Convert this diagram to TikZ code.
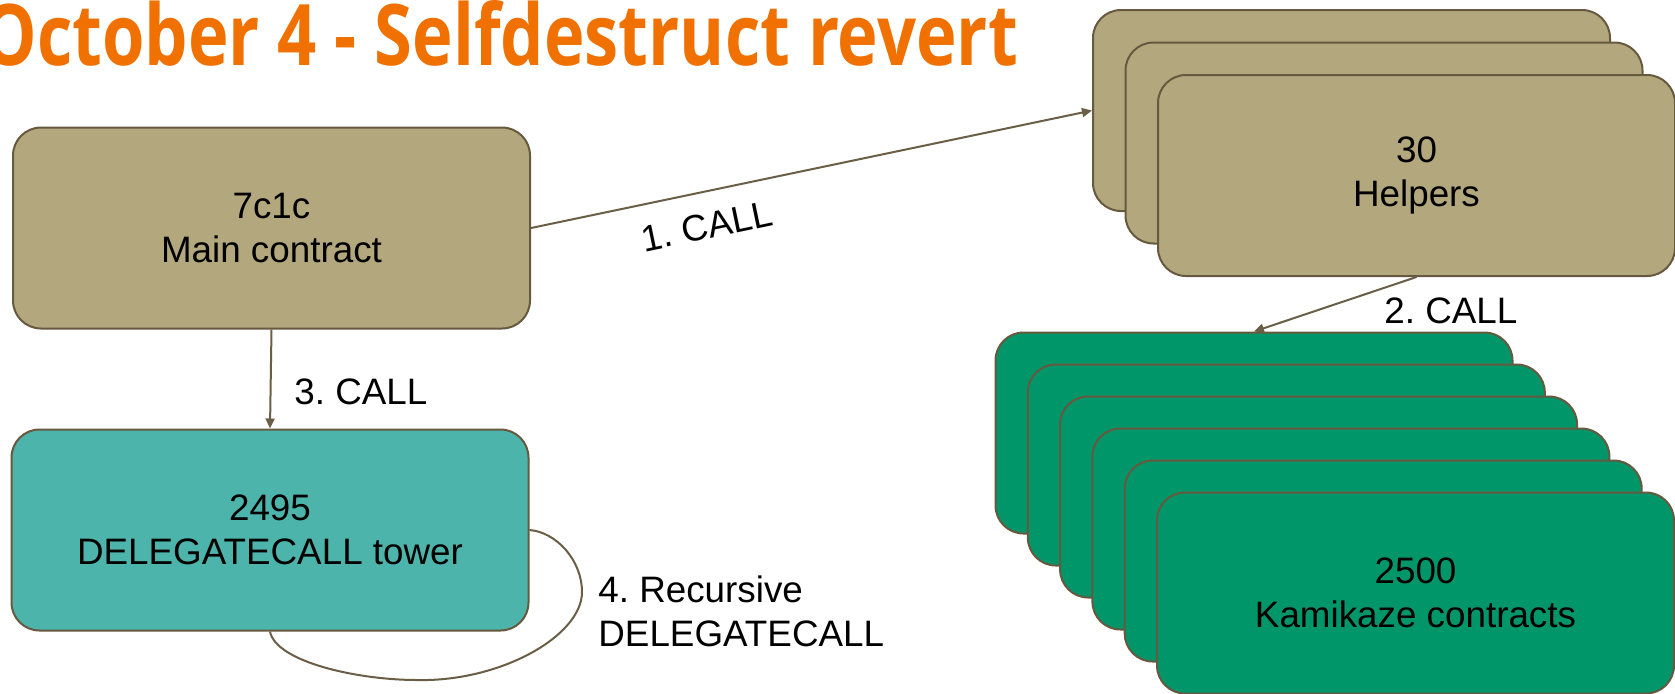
\documentclass[tikz,border=0pt]{standalone}
\usepackage{fontspec}
\usepackage{graphicx}
\setmainfont{Liberation Sans}
\newfontfamily\titlefont{Open Sans}
\usetikzlibrary{arrows.meta}
\definecolor{tanfill}{HTML}{B3A77D}
\definecolor{bordc}{HTML}{66593F}
\definecolor{arrc}{HTML}{6B5E47}
\definecolor{tealfill}{HTML}{4DB4AC}
\definecolor{greenfill}{HTML}{00966A}
\definecolor{titleor}{HTML}{F07000}
\frenchspacing
\begin{document}
\begin{tikzpicture}[x=0.5pt,y=-0.5pt,
  box/.style={draw=bordc, line width=1pt, rounded corners=14pt,
    minimum width=258.5pt, minimum height=100.5pt, align=center,
    inner sep=0pt, font=\fontsize{18.4}{22}\selectfont},
  tanbox/.style={box, fill=tanfill},
  tealbox/.style={box, fill=tealfill},
  greenbox/.style={box, fill=greenfill},
  arr/.style={draw=arrc, line width=1pt, -{Triangle[length=5pt,width=4.5pt]}},
  lbl/.style={inner sep=0pt, font=\fontsize{18.4}{22}\selectfont},
]
\clip (0,0) rectangle (1675,693);
\fill[white] (0,0) rectangle (1675,693);

% title
\node[anchor=base west, inner sep=0pt, text=titleor] (title) at (-18,65)
  {\resizebox{517.5pt}{32.5pt}{\titlefont\bfseries October 4 - Selfdestruct revert}};

% main contract and tower
\node[tanbox] (main) at (271.5,228) {7c1c\\Main contract};
\node[tealbox] (del) at (270,530) {2495\\DELEGATECALL tower};

% helpers stack
\node[tanbox] (h1) at (1351.5,110.5) {};
\node[tanbox] (h2) at (1384,143) {};
\node[tanbox] (h3) at (1416.5,175.5) {30\\Helpers};

% kamikaze stack
\node[greenbox] (k1) at (1254,433) {};
\node[greenbox] (k2) at (1286.3,465) {};
\node[greenbox] (k3) at (1318.6,497) {};
\node[greenbox] (k4) at (1350.9,529) {};
\node[greenbox] (k5) at (1383.2,561) {};
\node[greenbox] (k6) at (1415.5,593) {2500\\Kamikaze contracts};

% connectors
\draw[arr] (main.east) -- (h1.west);
\draw[arr] (h3.south) -- (k1.north);
\draw[arr] (main.south) -- (del.north);
\coordinate (lr) at (582,592);
\coordinate (lb) at (417,680);
\draw[draw=arrc, line width=1pt] (del.east)
  .. controls (556,532) and (582,560) .. (lr)
  .. controls (582,636) and (500,682) .. (lb)
  .. controls (358,680) and (276,662) .. (del.south);

% labels
\node[lbl, rotate=11.8] (l1) at (707,226) {1. CALL};
\node[lbl, anchor=west] (l2) at (1384,311) {2. CALL};
\node[lbl, anchor=west] (l3) at (294,392) {3. CALL};
\node[lbl, anchor=west, align=left] (l4) at (598,611) {4. Recursive\\DELEGATECALL};
\end{tikzpicture}
\end{document}
